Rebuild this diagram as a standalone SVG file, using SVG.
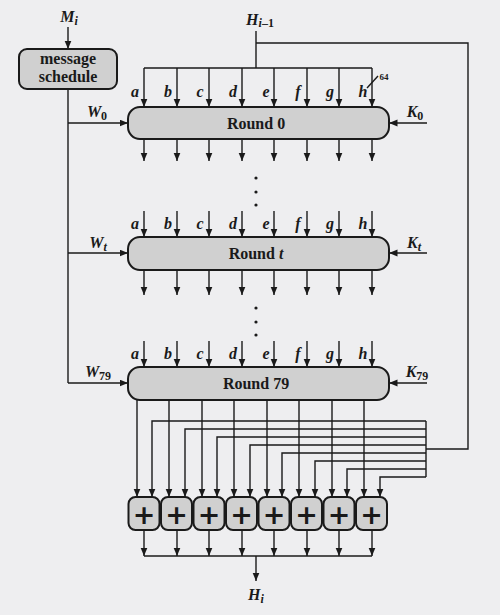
<svg xmlns="http://www.w3.org/2000/svg" width="500" height="615" viewBox="0 0 500 615">
<defs>
<marker id="ah" markerUnits="userSpaceOnUse" markerWidth="9" markerHeight="8" refX="8.5" refY="3.5" orient="auto"><path d="M0,0 L8.5,3.5 L0,7 z" fill="#1a1a1a"/></marker>
<style>
.ln{stroke:#1a1a1a;stroke-width:1.4;fill:none}
.ar{stroke:#1a1a1a;stroke-width:1.4;fill:none;marker-end:url(#ah)}
.box{fill:#d0d0d0;stroke:#1a1a1a;stroke-width:2}
.t{font-family:"Liberation Serif",serif;font-weight:bold;fill:#1a1a1a}
.lb{font-family:"Liberation Serif",serif;font-weight:bold;font-style:italic;fill:#1a1a1a;font-size:16px;text-anchor:middle}
.sb{font-size:12px;font-style:italic}
.sbn{font-size:12px;font-style:normal}
.pl{font-family:"DejaVu Sans",sans-serif;font-weight:bold;fill:#1a1a1a;font-size:27px;text-anchor:middle}
</style>
</defs>
<rect width="500" height="615" fill="#eeeef0"/>

<g id="connectors">
<line class="ar" x1="68" y1="27" x2="68" y2="49"/>
<path class="ln" d="M68,89 V383"/>
<line class="ar" x1="68" y1="123" x2="128" y2="123"/>
<line class="ar" x1="68" y1="253" x2="128" y2="253"/>
<line class="ar" x1="68" y1="383" x2="128" y2="383"/>
<line class="ar" x1="427" y1="123" x2="389" y2="123"/>
<line class="ar" x1="427" y1="253" x2="389" y2="253"/>
<line class="ar" x1="427" y1="383" x2="389" y2="383"/>
<path class="ln" d="M256,31 V68 M144,68 H372 M256,43 H468 V449 H426 M426,421 V477"/>
<line class="ln" x1="367" y1="88" x2="378" y2="76"/>
<g id="r0in">
<line class="ar" x1="144" y1="68" x2="144" y2="107"/><line class="ar" x1="177" y1="68" x2="177" y2="107"/><line class="ar" x1="209" y1="68" x2="209" y2="107"/><line class="ar" x1="242" y1="68" x2="242" y2="107"/><line class="ar" x1="274" y1="68" x2="274" y2="107"/><line class="ar" x1="307" y1="68" x2="307" y2="107"/><line class="ar" x1="339" y1="68" x2="339" y2="107"/><line class="ar" x1="372" y1="68" x2="372" y2="107"/>
</g>
<g id="r0out">
<line class="ar" x1="144" y1="139" x2="144" y2="161"/><line class="ar" x1="177" y1="139" x2="177" y2="161"/><line class="ar" x1="209" y1="139" x2="209" y2="161"/><line class="ar" x1="242" y1="139" x2="242" y2="161"/><line class="ar" x1="274" y1="139" x2="274" y2="161"/><line class="ar" x1="307" y1="139" x2="307" y2="161"/><line class="ar" x1="339" y1="139" x2="339" y2="161"/><line class="ar" x1="372" y1="139" x2="372" y2="161"/>
</g>
<g id="rtin">
<line class="ar" x1="144" y1="211" x2="144" y2="237"/><line class="ar" x1="177" y1="211" x2="177" y2="237"/><line class="ar" x1="209" y1="211" x2="209" y2="237"/><line class="ar" x1="242" y1="211" x2="242" y2="237"/><line class="ar" x1="274" y1="211" x2="274" y2="237"/><line class="ar" x1="307" y1="211" x2="307" y2="237"/><line class="ar" x1="339" y1="211" x2="339" y2="237"/><line class="ar" x1="372" y1="211" x2="372" y2="237"/>
</g>
<g id="rtout">
<line class="ar" x1="144" y1="270" x2="144" y2="295"/><line class="ar" x1="177" y1="270" x2="177" y2="295"/><line class="ar" x1="209" y1="270" x2="209" y2="295"/><line class="ar" x1="242" y1="270" x2="242" y2="295"/><line class="ar" x1="274" y1="270" x2="274" y2="295"/><line class="ar" x1="307" y1="270" x2="307" y2="295"/><line class="ar" x1="339" y1="270" x2="339" y2="295"/><line class="ar" x1="372" y1="270" x2="372" y2="295"/>
</g>
<g id="r79in">
<line class="ar" x1="144" y1="341" x2="144" y2="367"/><line class="ar" x1="177" y1="341" x2="177" y2="367"/><line class="ar" x1="209" y1="341" x2="209" y2="367"/><line class="ar" x1="242" y1="341" x2="242" y2="367"/><line class="ar" x1="274" y1="341" x2="274" y2="367"/><line class="ar" x1="307" y1="341" x2="307" y2="367"/><line class="ar" x1="339" y1="341" x2="339" y2="367"/><line class="ar" x1="372" y1="341" x2="372" y2="367"/>
</g>
<g id="r79out">
<line class="ar" x1="137" y1="400" x2="137" y2="497"/><line class="ar" x1="169" y1="400" x2="169" y2="497"/><line class="ar" x1="202" y1="400" x2="202" y2="497"/><line class="ar" x1="234" y1="400" x2="234" y2="497"/><line class="ar" x1="267" y1="400" x2="267" y2="497"/><line class="ar" x1="299" y1="400" x2="299" y2="497"/><line class="ar" x1="332" y1="400" x2="332" y2="497"/><line class="ar" x1="364" y1="400" x2="364" y2="497"/>
</g>
<g id="feedback">
<path class="ar" d="M426,421 H152 V497"/><path class="ar" d="M426,429 H185 V497"/><path class="ar" d="M426,437 H217 V497"/><path class="ar" d="M426,445 H250 V497"/><path class="ar" d="M426,453 H282 V497"/><path class="ar" d="M426,461 H315 V497"/><path class="ar" d="M426,469 H347 V497"/><path class="ar" d="M426,477 H380 V497"/>
</g>
<g id="sumout">
<line class="ar" x1="144" y1="530" x2="144" y2="556"/><line class="ar" x1="177" y1="530" x2="177" y2="556"/><line class="ar" x1="209" y1="530" x2="209" y2="556"/><line class="ar" x1="242" y1="530" x2="242" y2="556"/><line class="ar" x1="274" y1="530" x2="274" y2="556"/><line class="ar" x1="307" y1="530" x2="307" y2="556"/><line class="ar" x1="339" y1="530" x2="339" y2="556"/><line class="ar" x1="372" y1="530" x2="372" y2="556"/>
<line class="ln" x1="144" y1="556" x2="372" y2="556"/>
<line class="ar" x1="256" y1="556" x2="256" y2="581"/>
</g>
</g>

<g id="dots" fill="#1a1a1a">
<circle cx="256" cy="178" r="1.6"/><circle cx="256" cy="192" r="1.6"/><circle cx="256" cy="205" r="1.6"/>
<circle cx="256" cy="308" r="1.6"/><circle cx="256" cy="322" r="1.6"/><circle cx="256" cy="335" r="1.6"/>
</g>

<g id="msg">
<rect class="box" x="19" y="49" width="98" height="40" rx="8"/>
<text class="t" x="68" y="64" font-size="16" text-anchor="middle">message</text>
<text class="t" x="68" y="82" font-size="16" text-anchor="middle">schedule</text>
</g>
<g id="round0">
<rect class="box" x="128" y="107" width="261" height="32" rx="12"/>
<text class="t" x="256" y="129" font-size="16" text-anchor="middle">Round 0</text>
</g>
<g id="roundt">
<rect class="box" x="128" y="237" width="261" height="33" rx="12"/>
<text class="t" x="256" y="259" font-size="16" text-anchor="middle">Round <tspan font-style="italic">t</tspan></text>
</g>
<g id="round79">
<rect class="box" x="128" y="367" width="261" height="33" rx="12"/>
<text class="t" x="256" y="389" font-size="16" text-anchor="middle">Round 79</text>
</g>

<g id="adders">
<g id="add1"><rect class="box" x="128.5" y="497" width="31" height="33" rx="7"/><text class="pl" x="144" y="524">+</text></g>
<g id="add2"><rect class="box" x="161" y="497" width="31" height="33" rx="7"/><text class="pl" x="176.5" y="524">+</text></g>
<g id="add3"><rect class="box" x="193.5" y="497" width="31" height="33" rx="7"/><text class="pl" x="209" y="524">+</text></g>
<g id="add4"><rect class="box" x="226" y="497" width="31" height="33" rx="7"/><text class="pl" x="241.5" y="524">+</text></g>
<g id="add5"><rect class="box" x="258.5" y="497" width="31" height="33" rx="7"/><text class="pl" x="274" y="524">+</text></g>
<g id="add6"><rect class="box" x="291" y="497" width="31" height="33" rx="7"/><text class="pl" x="306.5" y="524">+</text></g>
<g id="add7"><rect class="box" x="323.5" y="497" width="31" height="33" rx="7"/><text class="pl" x="339" y="524">+</text></g>
<g id="add8"><rect class="box" x="356" y="497" width="31" height="33" rx="7"/><text class="pl" x="371.5" y="524">+</text></g>
</g>

<g id="labels">
<text class="lb" x="69" y="22" font-size="17">M<tspan class="sb" dy="3">i</tspan></text>
<text class="lb" x="260" y="25">H<tspan class="sb" dy="2">i</tspan><tspan class="sbn">–1</tspan></text>
<text class="lb" x="256" y="600">H<tspan class="sb" dy="3">i</tspan></text>
<text class="t" x="384" y="80" font-size="9" text-anchor="middle">64</text>
<text class="lb" x="97" y="117">W<tspan class="sbn" dy="3">0</tspan></text>
<text class="lb" x="415" y="117">K<tspan class="sbn" dy="3">0</tspan></text>
<text class="lb" x="98" y="248">W<tspan class="sb" dy="3">t</tspan></text>
<text class="lb" x="414" y="248">K<tspan class="sb" dy="3">t</tspan></text>
<text class="lb" x="98" y="377">W<tspan class="sbn" dy="3">79</tspan></text>
<text class="lb" x="417" y="377">K<tspan class="sbn" dy="3">79</tspan></text>
<g id="lab0">
<text class="lb" x="135" y="97">a</text><text class="lb" x="168" y="97">b</text><text class="lb" x="200" y="97">c</text><text class="lb" x="233" y="97">d</text><text class="lb" x="266" y="97">e</text><text class="lb" x="298" y="97">f</text><text class="lb" x="330" y="97">g</text><text class="lb" x="363" y="97">h</text>
</g>
<g id="labt">
<text class="lb" x="135" y="229">a</text><text class="lb" x="168" y="229">b</text><text class="lb" x="200" y="229">c</text><text class="lb" x="233" y="229">d</text><text class="lb" x="266" y="229">e</text><text class="lb" x="298" y="229">f</text><text class="lb" x="330" y="229">g</text><text class="lb" x="363" y="229">h</text>
</g>
<g id="lab79">
<text class="lb" x="135" y="359">a</text><text class="lb" x="168" y="359">b</text><text class="lb" x="200" y="359">c</text><text class="lb" x="233" y="359">d</text><text class="lb" x="266" y="359">e</text><text class="lb" x="298" y="359">f</text><text class="lb" x="330" y="359">g</text><text class="lb" x="363" y="359">h</text>
</g>
</g>
</svg>
